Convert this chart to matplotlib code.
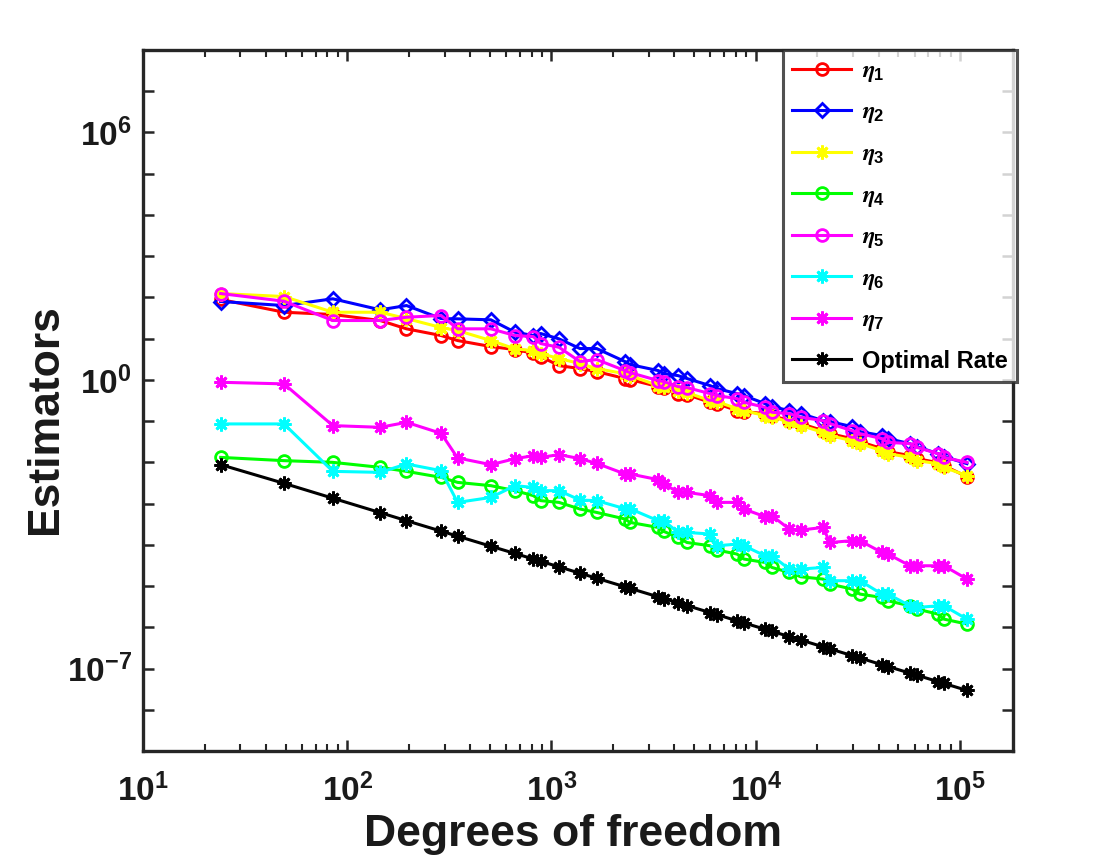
import math
import matplotlib
matplotlib.use("Agg")
import matplotlib.pyplot as plt
from matplotlib.ticker import FixedLocator, FuncFormatter, LogLocator, NullFormatter

plt.rcParams['font.family'] = ['Liberation Sans', 'DejaVu Sans']
plt.rcParams['font.weight'] = 'bold'
plt.rcParams['mathtext.fontset'] = 'custom'
plt.rcParams['mathtext.it'] = 'STIXGeneral:italic'
plt.rcParams['mathtext.rm'] = 'Liberation Sans'
plt.rcParams['mathtext.bf'] = 'Liberation Sans:bold'

# ---------------- data ----------------
dofs = [24, 49, 85, 145, 195, 288, 347, 505, 663, 815, 885, 1088, 1379, 1664,
        2290, 2423, 3334, 3555, 4163, 4607, 5970, 6461, 8093, 8761, 11100, 12010,
        14590, 16650, 21340, 23090, 29600, 32390, 41510, 44410, 56900, 61590,
        78050, 83500, 108200]

eta1 = [89, 43.7, 38.5, 27.5, 17.3, 11.9, 8.99, 6.43, 5.43, 4.42,
        3.68, 2.22, 1.88, 1.59, 1.08, 1.02, 0.688, 0.650, 0.465, 0.440,
        0.286, 0.266, 0.180, 0.170, 0.152, 0.136, 0.103, 0.0870, 0.0588, 0.0497,
        0.0376, 0.0318, 0.0215, 0.0182, 0.0146, 0.0123, 0.00984, 0.00832, 0.00450]
eta2 = [79.5, 63.5, 92.5, 50.0, 63.5, 30.7, 30.2, 28.6, 14.3, 11.9,
        13.3, 9.89, 5.75, 5.75, 2.78, 2.35, 1.68, 1.42, 1.27, 1.08,
        0.727, 0.615, 0.465, 0.416, 0.266, 0.225, 0.180, 0.152, 0.103, 0.0973,
        0.0736, 0.0556, 0.0445, 0.0376, 0.0284, 0.0240, 0.0163, 0.0138, 0.0093]
eta3 = [124, 105, 43.7, 43.7, 30.7, 18.6, 15.7, 8.99, 5.65, 5.14,
        4.35, 3.29, 2.49, 1.88, 1.41, 1.27, 0.727, 0.688, 0.550, 0.492,
        0.315, 0.297, 0.201, 0.180, 0.136, 0.129, 0.0935, 0.0778, 0.0535, 0.0445,
        0.0336, 0.0284, 0.0192, 0.0163, 0.0132, 0.0110, 0.0093, 0.00756, 0.00475]
eta4 = [1.32e-2, 1.10e-2, 1.00e-2, 7.57e-3, 6.05e-3, 4.33e-3, 3.27e-3, 2.72e-3, 2.06e-3, 1.56e-3,
        1.18e-3, 1.07e-3, 7.39e-4, 6.11e-4, 4.23e-4, 3.50e-4, 2.64e-4, 2.11e-4, 1.51e-4, 1.14e-4,
        9.51e-5, 7.48e-5, 5.98e-5, 4.52e-5, 3.74e-5, 2.83e-5, 2.14e-5, 1.68e-5, 1.48e-5, 1.12e-5,
        8.46e-6, 6.40e-6, 5.29e-6, 4.40e-6, 3.32e-6, 2.77e-6, 2.09e-6, 1.58e-6, 1.20e-6]
eta5 = [124, 80.9, 27.5, 27.5, 33.1, 36.4, 17.3, 17.3, 11.9, 11.2,
        7.60, 6.18, 2.78, 3.11, 1.68, 1.50, 0.962, 0.910, 0.688, 0.650,
        0.465, 0.416, 0.352, 0.286, 0.216, 0.164, 0.152, 0.124, 0.103, 0.0870,
        0.0588, 0.0497, 0.0376, 0.0306, 0.0284, 0.0231, 0.0163, 0.0132, 0.0100]
eta6 = [8.55e-2, 8.55e-2, 6.05e-3, 5.72e-3, 9.14e-3, 6.29e-3, 1.07e-3, 1.41e-3, 2.72e-3, 2.47e-3,
        2.06e-3, 2.06e-3, 1.22e-3, 1.18e-3, 7.52e-4, 7.52e-4, 3.83e-4, 3.83e-4, 2.00e-4, 2.00e-4,
        1.83e-4, 9.51e-5, 1.04e-4, 9.51e-5, 5.43e-5, 5.43e-5, 2.59e-5, 2.59e-5, 2.83e-5, 1.35e-5,
        1.35e-5, 1.35e-5, 6.40e-6, 6.40e-6, 3.32e-6, 3.03e-6, 3.32e-6, 3.32e-6, 1.58e-6]
eta7 = [0.875, 0.80, 7.78e-2, 7.08e-2, 9.35e-2, 5.06e-2, 1.28e-2, 8.79e-3, 1.23e-2, 1.45e-2,
        1.32e-2, 1.54e-2, 1.23e-2, 9.46e-3, 5.23e-3, 5.23e-3, 3.80e-3, 3.04e-3, 1.87e-3, 1.87e-3,
        1.56e-3, 1.07e-3, 1.07e-3, 7.39e-4, 4.81e-4, 5.08e-4, 2.42e-4, 2.29e-4, 2.64e-4, 1.14e-4,
        1.26e-4, 1.26e-4, 6.54e-5, 5.98e-5, 3.11e-5, 3.11e-5, 3.11e-5, 3.11e-5, 1.48e-5]
optimal = [8.79e-3, 3.10e-3, 1.35e-3, 6.04e-4, 3.85e-4, 2.15e-4, 1.62e-4, 9.25e-5, 6.17e-5, 4.53e-5,
           3.99e-5, 2.93e-5, 2.05e-5, 1.55e-5, 9.60e-6, 8.82e-6, 5.47e-6, 4.97e-6, 3.92e-6, 3.37e-6,
           2.28e-6, 2.03e-6, 1.44e-6, 1.28e-6, 9.0e-7, 8.0e-7, 5.97e-7, 4.90e-7, 3.38e-7, 3.00e-7,
           2.07e-7, 1.80e-7, 1.24e-7, 1.12e-7, 7.75e-8, 6.89e-8, 4.83e-8, 4.36e-8, 2.95e-8]

labels = [r'$\eta_{\mathbf{1}}$', r'$\eta_{\mathbf{2}}$', r'$\eta_{\mathbf{3}}$',
          r'$\eta_{\mathbf{4}}$', r'$\eta_{\mathbf{5}}$', r'$\eta_{\mathbf{6}}$',
          r'$\eta_{\mathbf{7}}$', 'Optimal Rate']
x_ticks = [1e1, 1e2, 1e3, 1e4, 1e5]
y_labeled_exps = [-7, 0, 6]

# ---------------- plot ----------------
fig = plt.figure(figsize=(11.2, 8.6), dpi=100)
ax = fig.add_axes([0.1277, 0.1267, 0.7768, 0.8152])

star = (8, 2, 0)
series = [eta1, eta2, eta3, eta4, eta5, eta6, eta7, optimal]
colors = ['#ff0000', '#0000ff', '#ffff00', '#00ff00', '#ff00ff', '#00ffff', '#ff00ff', '#000000']
markers = ['o', 'D', star, 'o', 'o', star, star, star]
msizes = [8.5, 7.5, 10, 8.5, 8.5, 10, 10, 10]
for ys, c, m, ms, lab in zip(series, colors, markers, msizes, labels):
    ax.loglog(dofs, ys, color=c, marker=m, markersize=ms, markerfacecolor='none',
              markeredgecolor=c, markeredgewidth=2, linewidth=2.2, label=lab)

ax.set_xlim(10, 10 ** 5.26)
ax.set_ylim(1e-9, 1e8)

ax.xaxis.set_major_locator(FixedLocator(x_ticks))
ax.xaxis.set_minor_locator(LogLocator(base=10, subs=range(2, 10), numticks=50))
ax.xaxis.set_minor_formatter(NullFormatter())
ax.xaxis.set_major_formatter(FuncFormatter(lambda v, p: r'$\mathbf{10^{%d}}$' % round(math.log10(v))))

ydecades = [10.0 ** k for k in range(-9, 9)]
ax.yaxis.set_major_locator(FixedLocator(ydecades))
ax.yaxis.set_minor_locator(FixedLocator([]))


def yfmt(v, p):
    k = round(math.log10(v))
    if k in y_labeled_exps:
        return r'$\mathbf{10^{%d}}$' % k
    return ''


ax.yaxis.set_major_formatter(FuncFormatter(yfmt))

frame = '#262626'
for s in ax.spines.values():
    s.set_linewidth(2.4)
    s.set_color(frame)
ax.tick_params(axis='both', which='major', direction='in', length=8, width=1.8,
               colors=frame, top=True, right=True, labelsize=24)
ax.tick_params(axis='x', which='major', pad=16)
ax.tick_params(axis='y', which='major', pad=8)
ax.tick_params(axis='both', which='minor', direction='in', length=5, width=1.5,
               colors=frame, top=True, right=True)
for t in ax.get_xticklabels() + ax.get_yticklabels():
    t.set_color('#1a1a1a')

ax.set_xlabel('Degrees of freedom', fontsize=32, fontweight='bold')
ax.set_ylabel('Estimators', fontsize=32, fontweight='bold')
ax.xaxis.set_label_coords(0.494, -0.090)
ax.yaxis.set_label_coords(-0.088, 0.4736)
ax.xaxis.label.set_color('#1a1a1a')
ax.yaxis.label.set_color('#1a1a1a')

leg = ax.legend(loc='upper right', bbox_to_anchor=(1.004, 1.0), borderaxespad=0,
                fontsize=17, frameon=True, fancybox=False, handlelength=2.5,
                handletextpad=0.45, labelspacing=0.70, borderpad=0.38)
leg.get_frame().set_edgecolor(frame)
leg.get_frame().set_linewidth(2.2)
for t in leg.get_texts():
    t.set_fontweight('bold')

fig.savefig('out.png', dpi=100, facecolor='white')
